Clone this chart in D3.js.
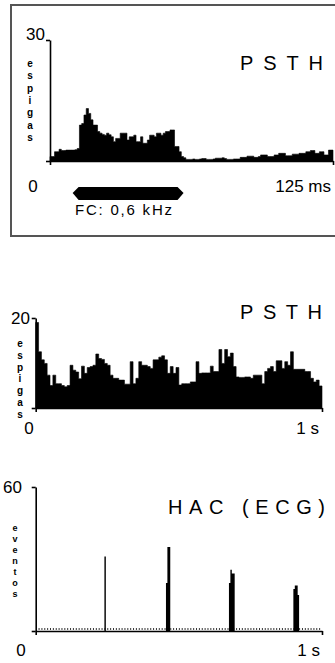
<!DOCTYPE html>
<html>
<head>
<meta charset="utf-8">
<script src="https://cdn.jsdelivr.net/npm/d3@7"></script>
<style>
  body { margin: 0; background: #fff; }
  text { font-family: "Liberation Sans", Arial, sans-serif; fill: #000; }
  .axis path, .axis line { stroke: #000; stroke-width: 1.6; }
  .ylab { font-weight: bold; }
</style>
</head>
<body>
<svg id="root"></svg>
<script>
// PSTH 1: 1 ms bins, 0-125 ms, spikes per bin
const psth1Counts = [
  1.1, 1.1, 2.3, 2.3, 2.9, 2.6, 2.6, 2.7, 2.7, 2.7,
  2.7, 2.8, 3.1, 8.9, 9.3, 11.4, 13, 11.8, 10.2, 8.9,
  8.9, 7.3, 6.9, 6.6, 6.4, 6.9, 6.5, 6, 4.8, 5.6,
  5.6, 6.9, 6.9, 6.9, 5.2, 6, 6, 6.4, 4.8, 4.8,
  6, 4.4, 4.4, 5.2, 6.4, 6.4, 6, 6.9, 6.9, 6.4,
  6.9, 7.3, 7.3, 7.7, 7.7, 3.6, 3.6, 2.3, 1.1, 0.8,
  0.4, 0.4, 0.4, 0.5, 0.4, 0.4, 0.5, 0.6, 0.6, 0.4,
  0.4, 0.4, 0.5, 0.7, 0.7, 0.7, 0.8, 0.6, 0.4, 0.4,
  0.4, 0.5, 0.5, 0.5, 0.9, 0.9, 0.9, 1.2, 1.2, 1.2,
  0.9, 0.9, 1.1, 1.5, 1.5, 1.5, 1.1, 1.1, 1.1, 1.5,
  1.5, 1.9, 1.9, 1.9, 1.3, 1.3, 1.3, 1.7, 1.7, 1.7,
  1.9, 1.9, 1.9, 2.3, 2.3, 2.6, 2.6, 1.9, 1.9, 2.3,
  2.3, 1.5, 1.5, 2.7, 2.7
];
const psth1Bin = 1;        // ms
const psth1Max = 30;
const psth1End = 125;      // ms
const stimulus = [10, 59]; // ms
const stimLabel = "FC: 0,6 kHz";

// PSTH 2: 10 ms bins, 0-1 s
const psth2Counts = [
  19, 12.5, 10.7, 9.9, 7.3, 5, 7.3, 5.4, 5.4, 5,
  4.7, 5, 9.5, 8.4, 8, 6.5, 9.3, 7.7, 9, 9.2,
  9.5, 12, 11, 10.8, 9.9, 9.5, 7.3, 6.6, 6.6, 6.2,
  6.2, 5.3, 5.3, 10.3, 5.4, 6.6, 10.3, 9.5, 9.5, 9.2,
  8.8, 10.7, 10.7, 11.3, 11.6, 10.7, 7.7, 9.2, 7.7, 9,
  5.1, 5.4, 5.4, 5.4, 5.8, 5.8, 10.3, 7.7, 7.8, 7.8,
  7.8, 9.3, 8.1, 8.1, 13, 9.9, 13, 11.4, 12.2, 9.2,
  6.9, 6.8, 6.8, 6.9, 6.9, 6.6, 7.3, 7.3, 7.3, 5.4,
  8.1, 8.8, 9.2, 8.1, 10.5, 10.5, 8.8, 10.3, 9.5, 12.5,
  8.6, 8.6, 8.6, 8.6, 8.1, 8.1, 6.6, 5.8, 6.2, 4.9
];
const psth2Bin = 10;   // ms
const psth2Max = 20;

// HAC (ECG): 5 ms bins, only non-empty bins listed
const hacBinStart = [240, 455, 460, 465, 675, 680, 685, 690, 900, 905, 910, 915];
const hacCounts   = [31, 20, 35, 35, 20, 25.5, 24, 24, 17.5, 19, 19, 15];
const hacBin = 5;      // ms
const hacMax = 60;
const hacEnd = 1000;   // ms

const svg = d3.select('#root')
    .attr('width', 335)
    .attr('height', 663);

function histo(g, counts, bin, x, y) {
    // step outline, filled black
    const pts = counts.concat([counts[counts.length - 1]]);
    const area = d3.area()
        .x((d, i) => x(i * bin))
        .y0(y(0))
        .y1(d => y(d))
        .curve(d3.curveStepAfter);
    g.append('path')
        .attr('d', area(pts))
        .attr('fill', '#000')
        .attr('stroke', '#000')
        .attr('stroke-width', 0.6);
}

function axes(g, x, y, xmax, ymax) {
    g.append('g')
        .attr('class', 'axis')
        .attr('transform', `translate(0, ${y(0)})`)
        .call(d3.axisBottom(x).tickValues([0, xmax]).tickSize(4).tickSizeOuter(0).tickFormat(''));
    g.append('g')
        .attr('class', 'axis')
        .attr('transform', `translate(${x(0)}, 0)`)
        .call(d3.axisLeft(y).tickValues([0, ymax]).tickSize(4).tickSizeOuter(0).tickFormat(''));
}

function stacked(g, word, cx, y0, step, size) {
    g.append('text')
        .attr('class', 'ylab')
        .attr('font-size', size)
        .attr('text-anchor', 'middle')
        .selectAll('tspan')
        .data(word.split(''))
        .enter()
        .append('tspan')
            .attr('x', cx)
            .attr('y', (d, i) => y0 + i * step)
            .text(d => d);
}

// ---------- panel 1 (boxed) ----------
svg.append('rect')
    .attr('x', 11).attr('y', 5)
    .attr('width', 326).attr('height', 231)
    .attr('fill', 'none')
    .attr('stroke', '#555')
    .attr('stroke-width', 2);

const x1 = d3.scaleLinear().domain([0, psth1End]).range([50, 333]);
const y1 = d3.scaleLinear().domain([0, psth1Max]).range([161, 40]);

const p1 = svg.append('g');
histo(p1, psth1Counts, psth1Bin, x1, y1);
axes(p1, x1, y1, psth1End, psth1Max);

p1.append('text').attr('x', 45).attr('y', 40).attr('text-anchor', 'end')
    .attr('font-size', 17).text(psth1Max);
p1.append('text').attr('x', 33).attr('y', 192).attr('text-anchor', 'middle')
    .attr('font-size', 17).text('0');
p1.append('text').attr('x', 331).attr('y', 192).attr('text-anchor', 'end')
    .attr('font-size', 17).text(psth1End + ' ms');
p1.append('text').attr('x', 240).attr('y', 70)
    .attr('font-size', 20).attr('textLength', 83).attr('lengthAdjust', 'spacing')
    .text('PSTH');
stacked(p1, 'espigas', 30, 67, 12.3, 10);

// stimulus bar (hexagon) under the axis
const sx0 = x1(stimulus[0]), sx1 = x1(stimulus[1]);
p1.append('path')
    .attr('d', `M${sx0},193 L${sx0 + 6},187 L${sx1 - 6},187 L${sx1},193 L${sx1 - 6},200 L${sx0 + 6},200 Z`)
    .attr('fill', '#000');
p1.append('text').attr('x', 75).attr('y', 215)
    .attr('font-size', 15).attr('textLength', 97).attr('lengthAdjust', 'spacing')
    .text(stimLabel);

// ---------- panel 2 ----------
const x2 = d3.scaleLinear().domain([0, 1000]).range([35.7, 322]);
const y2 = d3.scaleLinear().domain([0, psth2Max]).range([408, 318]);

const p2 = svg.append('g');
histo(p2, psth2Counts, psth2Bin, x2, y2);
axes(p2, x2, y2, 1000, psth2Max);

p2.append('text').attr('x', 30).attr('y', 324).attr('text-anchor', 'end')
    .attr('font-size', 17).text(psth2Max);
p2.append('text').attr('x', 29).attr('y', 434).attr('text-anchor', 'middle')
    .attr('font-size', 17).text('0');
p2.append('text').attr('x', 319).attr('y', 434).attr('text-anchor', 'end')
    .attr('font-size', 17).text('1 s');
p2.append('text').attr('x', 240).attr('y', 319)
    .attr('font-size', 20).attr('textLength', 82).attr('lengthAdjust', 'spacing')
    .text('PSTH');
stacked(p2, 'espigas', 20, 347, 11.8, 10);

// ---------- panel 3 ----------
const x3 = d3.scaleLinear().domain([0, hacEnd]).range([35.7, 322]);
const y3 = d3.scaleLinear().domain([0, hacMax]).range([631, 487]);

const p3 = svg.append('g');
// empty bins shown as a dotted baseline
p3.append('g')
    .attr('transform', `translate(0, ${y3(0) - 1})`)
    .call(d3.axisBottom(x3).tickValues(d3.range(10, hacEnd, 10)).tickSize(-2).tickSizeOuter(0).tickFormat(''))
    .call(g => g.select('.domain').remove())
    .selectAll('line').attr('stroke', '#000').attr('stroke-width', 0.8);

// expand the non-empty bins into the full bin list
const hacFull = d3.range(hacEnd / hacBin).map(() => 0);
hacBinStart.forEach((t, i) => { hacFull[t / hacBin] = hacCounts[i]; });
const hacArea = d3.area()
    .x((d, i) => x3(i * hacBin))
    .y0(y3(0))
    .y1(d => y3(d))
    .curve(d3.curveStepAfter);
p3.append('path')
    .attr('d', hacArea(hacFull.concat([0])))
    .attr('fill', '#000');
axes(p3, x3, y3, hacEnd, hacMax);

p3.append('text').attr('x', 22).attr('y', 493).attr('text-anchor', 'end')
    .attr('font-size', 17).text(hacMax);
p3.append('text').attr('x', 21).attr('y', 656).attr('text-anchor', 'middle')
    .attr('font-size', 17).text('0');
p3.append('text').attr('x', 320).attr('y', 656).attr('text-anchor', 'end')
    .attr('font-size', 17).text('1 s');
p3.append('text').attr('x', 168).attr('y', 514)
    .attr('font-size', 20).attr('textLength', 157).attr('lengthAdjust', 'spacing')
    .text('HAC (ECG)');
stacked(p3, 'eventos', 15, 531, 11, 9);
</script>
</body>
</html>
